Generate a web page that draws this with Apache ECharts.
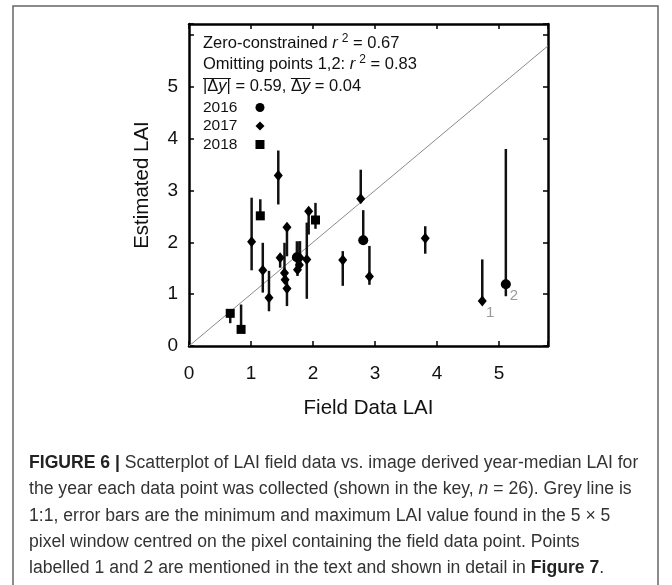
<!DOCTYPE html>
<html><head><meta charset="utf-8">
<script src="https://cdn.jsdelivr.net/npm/echarts@6/dist/echarts.min.js"></script>
<style>html,body{margin:0;padding:0;background:#fff}#c{width:672px;height:585px}</style>
</head><body><div id="c"></div>
<script>
// ---- data ----
const years = ['2016', '2017', '2018'];
const symbols = ['circle', 'diamond', 'rect'];

const field2016 = [1.74, 2.81, 5.11];
const est2016   = [1.71, 2.04, 1.19];
const min2016   = [1.45, 2.02, 0.96];
const max2016   = [2.02, 2.62, 3.80];

const field2017 = [1.01, 1.19, 1.29, 1.44, 1.47, 1.54, 1.55, 1.58, 1.58, 1.75, 1.78, 1.79, 1.90, 1.93, 2.48, 2.77, 2.91, 3.81, 4.73];
const est2017   = [2.01, 1.46, 0.93, 3.29, 1.70, 1.41, 1.28, 1.11, 2.29, 1.47, 1.56, 1.70, 1.67, 2.60, 1.66, 2.84, 1.34, 2.08, 0.87];
const min2017   = [1.46, 1.03, 0.67, 2.73, 1.51, 1.35, 1.20, 0.77, 1.73, 1.35, 1.45, 1.55, 0.91, 2.15, 1.16, 2.80, 1.18, 1.78, 0.87];
const max2017   = [2.86, 1.99, 1.45, 3.77, 1.72, 1.99, 1.35, 1.25, 2.29, 1.60, 2.02, 2.02, 2.38, 2.62, 1.83, 3.40, 1.93, 2.31, 1.67];

const field2018 = [0.665, 0.84, 1.15, 2.04];
const est2018   = [0.63, 0.32, 2.51, 2.43];
const min2018   = [0.44, 0.32, 2.51, 2.26];
const max2018   = [0.65, 0.80, 2.83, 2.76];

const labelledPoints = [
  { year: '2017', index: 18, text: '1' },
  { year: '2016', index: 2, text: '2' }
];

const xTickLabels = ['0', '1', '2', '3', '4', '5'];
const yTickLabels = ['0', '1', '2', '3', '4', '5'];
const X_MAX = 5.79, Y_MAX = 6.21;

const stat1 = ['Zero-constrained ', 'r', '2', ' = 0.67'];
const stat2 = ['Omitting points 1,2: ', 'r', '2', ' = 0.83'];
const stat3 = ['|Δ', 'y', '| = 0.59, Δ', 'y', ' = 0.04'];

const captionLines = [
  '{b|FIGURE 6 |} Scatterplot of LAI field data vs. image derived year-median LAI for',
  'the year each data point was collected (shown in the key, {i|n} = 26). Grey line is',
  '1:1, error bars are the minimum and maximum LAI value found in the 5 × 5',
  'pixel window centred on the pixel containing the field data point. Points',
  'labelled 1 and 2 are mentioned in the text and shown in detail in {b|Figure 7}.'
];

// ---- build ----
const byYear = {
  '2016': { x: field2016, y: est2016, lo: min2016, hi: max2016 },
  '2017': { x: field2017, y: est2017, lo: min2017, hi: max2017 },
  '2018': { x: field2018, y: est2018, lo: min2018, hi: max2018 }
};
const FONT = '"Liberation Sans", Arial, sans-serif';
const ANN_SIZE = 16.5;
const CAP_SIZE = 17.6;

const series = [{
  type: 'line', data: [[0, 0], [X_MAX, X_MAX]], symbol: 'none', silent: true,
  lineStyle: { color: '#8a8a8a', width: 1 }, z: 1
}];

years.forEach((yr) => {
  const d = byYear[yr];
  series.push({
    type: 'custom', name: yr + ' range', silent: true, z: 2,
    data: d.x.map((x, i) => [x, d.lo[i], d.hi[i]]),
    encode: { x: 0, y: [1, 2] },
    renderItem: (params, api) => {
      const a = api.coord([api.value(0), api.value(1)]);
      const b = api.coord([api.value(0), api.value(2)]);
      return { type: 'line', shape: { x1: a[0], y1: a[1], x2: b[0], y2: b[1] },
               style: { stroke: '#111', lineWidth: 2.5 } };
    }
  });
});

years.forEach((yr, k) => {
  const d = byYear[yr];
  const data = d.x.map((x, i) => {
    const item = { value: [x, d.y[i]] };
    const lp = labelledPoints.find(p => p.year === yr && p.index === i);
    if (lp) {
      item.label = { show: true, formatter: lp.text, position: 'inside',
        offset: [8, 12], color: '#9a9a9a', fontSize: 15, fontFamily: FONT };
    }
    return item;
  });
  series.push({
    type: 'scatter', name: yr, symbol: symbols[k],
    symbolSize: k === 0 ? 10 : (k === 1 ? [9, 11] : 9),
    itemStyle: { color: '#000', opacity: 1 }, z: 3, data
  });
});

// measure text to place overlines exactly above |Δy| and Δy
const mctx = document.createElement('canvas').getContext('2d');
function tw(s, italic) {
  mctx.font = (italic ? 'italic ' : '') + ANN_SIZE + 'px ' + FONT;
  return mctx.measureText(s).width;
}
const annX = 203, annTop = 32.5, annLH = 21.5;
const ol1x1 = annX, ol1x2 = annX + tw(stat3[0]) + tw(stat3[1], true) + tw('|');
const ol2x1 = annX + tw(stat3[0]) + tw(stat3[1], true) + tw(stat3[2]) - tw('Δ');
const ol2x2 = ol2x1 + tw('Δ') + tw(stat3[3], true);
const olY = annTop + 2 * annLH + 3;

const annText = [
  `{t|${stat1[0]}}{i|${stat1[1]}}{s|${stat1[2]}}{t|${stat1[3]}}`,
  `{t|${stat2[0]}}{i|${stat2[1]}}{s|${stat2[2]}}{t|${stat2[3]}}`,
  `{t|${stat3[0]}}{i|${stat3[1]}}{t|${stat3[2]}}{i|${stat3[3]}}{t|${stat3[4]}}`
].join('\n');

const axisFrame = { show: true, onZero: false, lineStyle: { color: '#000', width: 2.5 } };
const tickStyle = { show: true, inside: true, length: 5, lineStyle: { color: '#000', width: 1.5 } };
const intLabel = (arr) => (v) => { const i = Math.round(v); return Math.abs(v - i) < 1e-9 && arr[i] !== undefined ? arr[i] : ''; };

const option = {
  animation: false,
  backgroundColor: '#fff',
  textStyle: { fontFamily: FONT },
  grid: { left: 189, top: 24, width: 359, height: 322, containLabel: false },
  xAxis: [{
    type: 'value', min: 0, max: X_MAX, interval: 1, position: 'bottom',
    axisLine: axisFrame, axisTick: tickStyle, splitLine: { show: false },
    axisLabel: { margin: 18, fontSize: 19, color: '#111', fontFamily: FONT, formatter: intLabel(xTickLabels) },
    name: 'Field Data LAI', nameLocation: 'middle', nameGap: 52,
    nameTextStyle: { fontSize: 20.5, color: '#111', fontFamily: FONT }
  }, {
    type: 'value', min: 0, max: X_MAX, interval: 1, position: 'top',
    axisLine: axisFrame, axisTick: tickStyle, splitLine: { show: false }, axisLabel: { show: false }
  }],
  yAxis: [{
    type: 'value', min: 0, max: Y_MAX, interval: 1, position: 'left',
    axisLine: axisFrame, axisTick: tickStyle, splitLine: { show: false },
    axisLabel: { margin: 11, fontSize: 19, color: '#111', fontFamily: FONT, formatter: intLabel(yTickLabels) },
    name: 'Estimated LAI', nameLocation: 'middle', nameGap: 36,
    nameTextStyle: { fontSize: 20.5, color: '#111', fontFamily: FONT }
  }, {
    type: 'value', min: 0, max: Y_MAX, interval: 1, position: 'right',
    axisLine: axisFrame, axisTick: tickStyle, splitLine: { show: false }, axisLabel: { show: false }
  }],
  legend: {
    data: years, orient: 'vertical', left: 203, top: 99.5, align: 'right',
    padding: 0, itemGap: 2.5, itemWidth: 9, itemHeight: 9,
    textStyle: { fontSize: 15.5, color: '#111', fontFamily: FONT, padding: [0, 13, 0, 0] },
    selectedMode: false
  },
  graphic: [
    { type: 'rect', shape: { x: 13, y: 6, width: 645, height: 620 },
      style: { fill: 'none', stroke: '#666', lineWidth: 1.5 }, silent: true },
    { type: 'text', x: annX, y: annTop, silent: true,
      style: { text: annText, fontFamily: FONT, fontSize: ANN_SIZE, lineHeight: annLH, fill: '#111',
        rich: {
          t: { fontSize: ANN_SIZE, fontFamily: FONT, lineHeight: annLH },
          i: { fontSize: ANN_SIZE, fontStyle: 'italic', fontFamily: FONT, lineHeight: annLH },
          s: { fontSize: 12, fontFamily: FONT, verticalAlign: 'top', padding: [0, 0, 0, 4], lineHeight: 12 }
        } } },
    { type: 'line', shape: { x1: ol1x1, y1: olY, x2: ol1x2, y2: olY }, style: { stroke: '#111', lineWidth: 1 }, silent: true },
    { type: 'line', shape: { x1: ol2x1, y1: olY, x2: ol2x2, y2: olY }, style: { stroke: '#111', lineWidth: 1 }, silent: true },
    { type: 'text', x: 29, y: 450, silent: true,
      style: { text: captionLines.join('\n'), fontFamily: FONT, fontSize: CAP_SIZE,
        lineHeight: 26.3, fill: '#333',
        rich: {
          b: { fontWeight: 'bold', fontFamily: FONT, fontSize: CAP_SIZE, fill: '#222', lineHeight: 26.3 },
          i: { fontStyle: 'italic', fontFamily: FONT, fontSize: CAP_SIZE, lineHeight: 26.3 }
        } } }
  ],
  series
};

const chart = echarts.init(document.getElementById('c'), null, { renderer: 'canvas' });
chart.setOption(option);
</script>
</body></html>
